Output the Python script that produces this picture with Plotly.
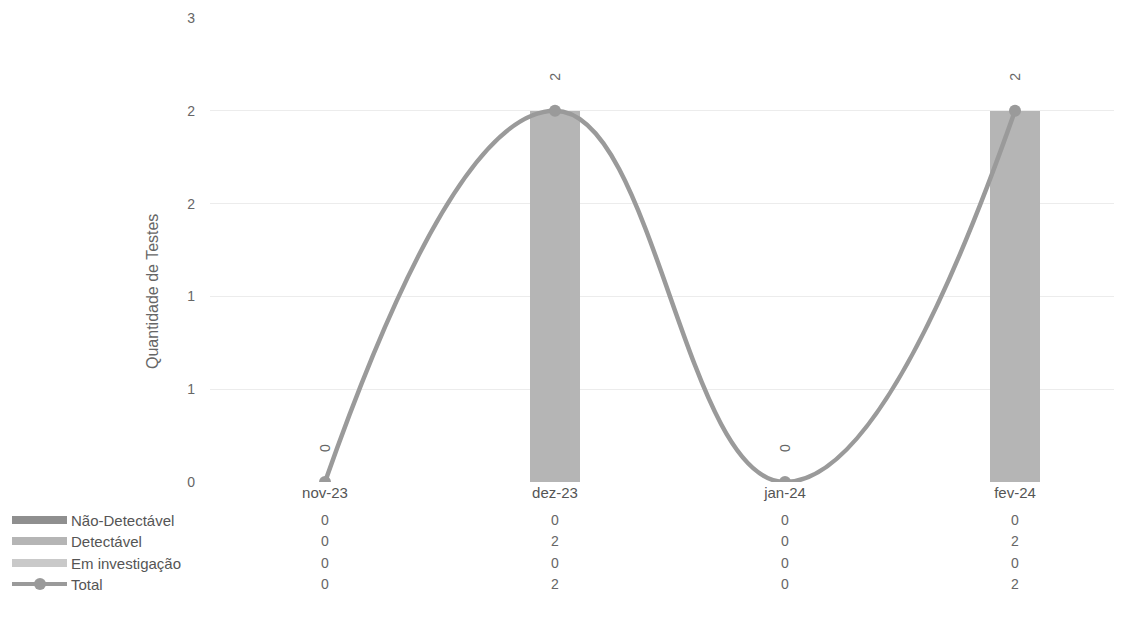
import plotly.graph_objects as go

categories = ["nov-23", "dez-23", "jan-24", "fev-24"]
nao_detectavel = [0, 0, 0, 0]
detectavel = [0, 2, 0, 2]
em_investigacao = [0, 0, 0, 0]
total = [0, 2, 0, 2]
y_tickvals = [0, 0.5, 1, 1.5, 2, 2.5]
y_ticktext = ["0", "1", "1", "2", "2", "3"]

series_names = ["Não-Detectável", "Detectável", "Em investigação", "Total"]
series_vals = [nao_detectavel, detectavel, em_investigacao, total]
series_colors = ["#8f8f8f", "#b5b5b5", "#c9c9c9", "#9a9a9a"]

OFF = 8  # page body margin
W, H = 1122, 623
ML, MR, MT, MB = 210 - OFF, 0, 18 - OFF, 141 + OFF
PW = W - ML - MR
PH = H - MT - MB

def px_to_py(ypix):
    return (H - MB - (ypix - OFF)) / PH

def px_to_px(xpix):
    return ((xpix - OFF) - ML) / PW

fig = go.Figure()
for name, vals, col in zip(series_names[:3], series_vals[:3], series_colors[:3]):
    fig.add_trace(go.Bar(x=categories, y=vals, name=name, marker=dict(color=col, line=dict(width=0)),
                         width=0.22, showlegend=False))

fig.add_trace(go.Scatter(x=categories, y=total, name="Total", mode="lines+markers",
                         line=dict(color="#9a9a9a", width=4.5, shape="spline", smoothing=1.3),
                         marker=dict(size=12, color="#9a9a9a"), showlegend=False))

annotations = []
for c, v in zip(categories, total):
    annotations.append(dict(x=c, y=v, xref="x", yref="y", text=str(v), showarrow=False,
                            textangle=-90, yshift=34, xanchor="center", yanchor="middle",
                            font=dict(size=14, color="#666666")))

row_y = [520, 541, 563, 584]
for (name, vals, col, ry) in zip(series_names, series_vals, series_colors, row_y):
    py = px_to_py(ry)
    for c, v in zip(categories, vals):
        annotations.append(dict(x=c, y=py, xref="x", yref="paper", text=str(v), showarrow=False,
                                xanchor="center", yanchor="middle",
                                font=dict(size=14, color="#666666")))
    annotations.append(dict(x=px_to_px(69), y=py, xref="paper", yref="paper", text=name, showarrow=False,
                            xanchor="left", yanchor="middle", font=dict(size=15, color="#555555")))

annotations.append(dict(x=px_to_px(153), y=px_to_py(292), xref="paper", yref="paper",
                        text="Quantidade de Testes", showarrow=False, textangle=-90,
                        xanchor="center", yanchor="middle",
                        font=dict(size=16, color="#666666")))

shapes = []
for i, (col, ry) in enumerate(zip(series_colors, row_y)):
    py = px_to_py(ry)
    if i < 3:
        shapes.append(dict(type="rect", xref="paper", yref="paper",
                           x0=px_to_px(12), x1=px_to_px(67),
                           y0=py - 4 / PH, y1=py + 4 / PH,
                           fillcolor=col, line=dict(width=0)))
    else:
        shapes.append(dict(type="line", xref="paper", yref="paper",
                           x0=px_to_px(12), x1=px_to_px(67), y0=py, y1=py,
                           line=dict(color=col, width=4)))
        shapes.append(dict(type="circle", xref="paper", yref="paper",
                           x0=px_to_px(34), x1=px_to_px(46),
                           y0=py - 6 / PH, y1=py + 6 / PH,
                           fillcolor=col, line=dict(width=0)))

fig.update_layout(
    width=W, height=H,
    margin=dict(l=ML, r=MR, t=MT, b=MB),
    barmode="stack",
    plot_bgcolor="white", paper_bgcolor="white",
    font=dict(family="Liberation Sans, Arial", size=14, color="#666666"),
    annotations=annotations, shapes=shapes,
    xaxis=dict(showgrid=False, zeroline=False, showline=False, ticks="",
               tickfont=dict(size=15, color="#555555")),
    yaxis=dict(range=[0, 2.5], tickvals=y_tickvals, ticktext=y_ticktext,
               showgrid=True, gridcolor="#ececec", gridwidth=1, zeroline=False,
               ticklabelstandoff=14, tickfont=dict(size=14, color="#666666")),
)

fig.write_html("out.html")
